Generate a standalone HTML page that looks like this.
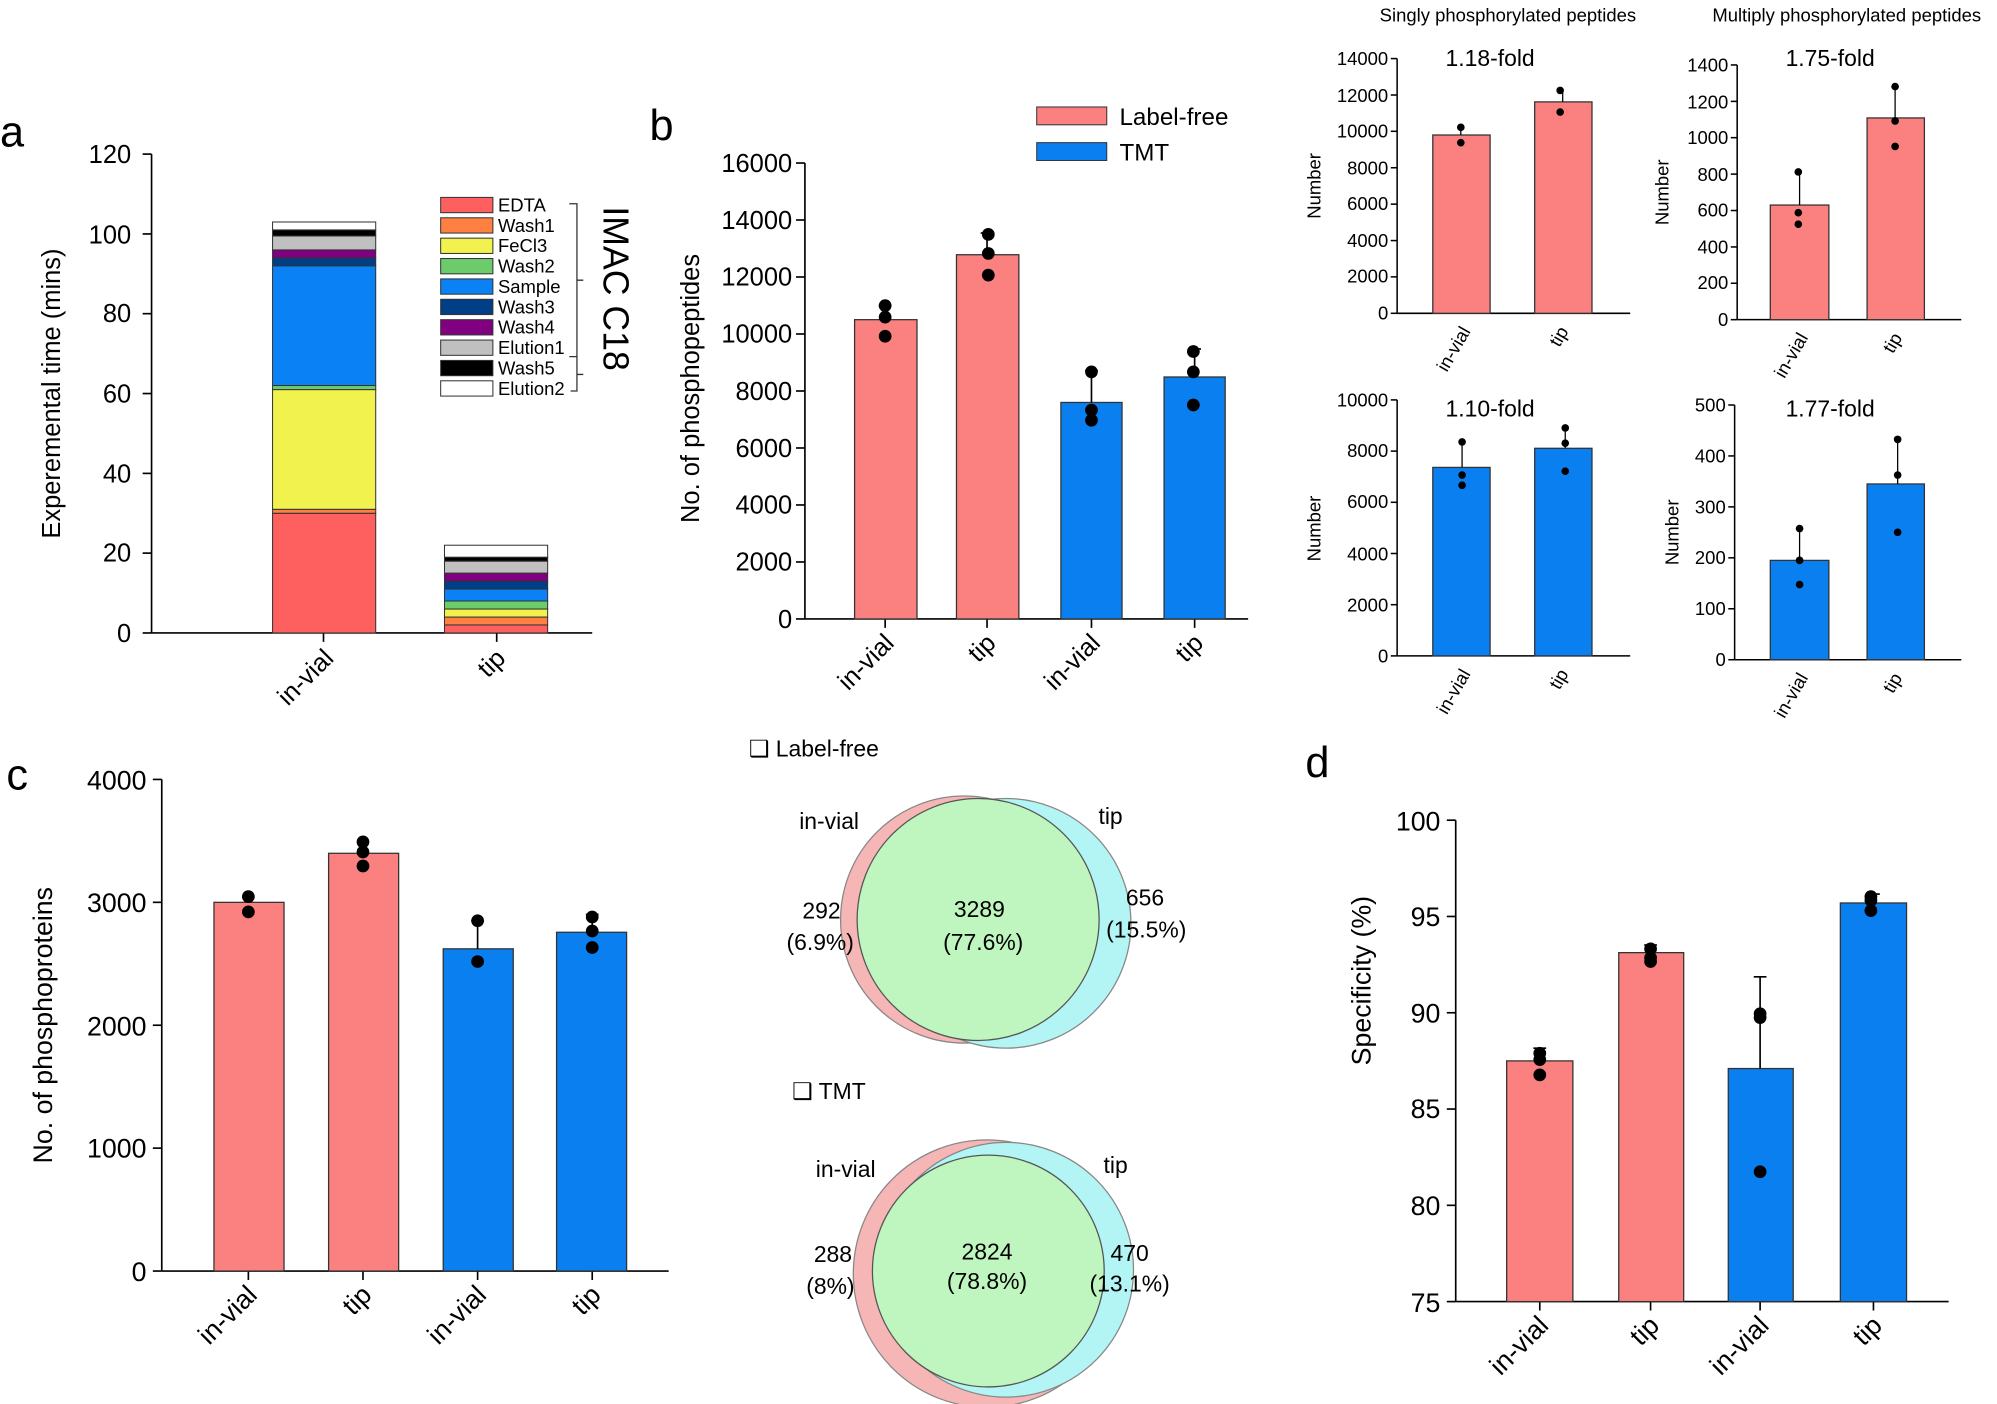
<!DOCTYPE html>
<html><head><meta charset="utf-8"><style>
html,body{margin:0;padding:0;background:#fff}
svg{display:block}
text{font-family:"Liberation Sans",Arial,sans-serif;fill:#000}
</style></head><body>
<svg width="1997" height="1404" viewBox="0 0 1568 1102.4" xmlns="http://www.w3.org/2000/svg">
<rect width="1568" height="1102.4" fill="#fff"/>
<!-- Panel a -->
<text x="0" y="115" font-size="34">a</text>
<g stroke="#000" stroke-width="1.3" fill="none">
<line x1="119" y1="121" x2="119" y2="497"/><line x1="119" y1="497" x2="465" y2="497"/>
<line x1="112" y1="121" x2="119" y2="121"/><line x1="112" y1="183.7" x2="119" y2="183.7"/><line x1="112" y1="246.3" x2="119" y2="246.3"/><line x1="112" y1="309" x2="119" y2="309"/><line x1="112" y1="371.7" x2="119" y2="371.7"/><line x1="112" y1="434.3" x2="119" y2="434.3"/><line x1="112" y1="497" x2="119" y2="497"/>
<line x1="254" y1="497" x2="254" y2="504"/><line x1="390" y1="497" x2="390" y2="504"/>
</g>
<g font-size="20" text-anchor="end">
<text x="103" y="128">120</text><text x="103" y="191">100</text><text x="103" y="253">80</text><text x="103" y="316">60</text><text x="103" y="379">40</text><text x="103" y="441">20</text><text x="103" y="504">0</text>
<text transform="translate(263,518) rotate(-45)">in-vial</text>
<text transform="translate(398,518) rotate(-45)">tip</text>
</g>
<text transform="translate(47,309) rotate(-90)" font-size="20" text-anchor="middle">Experemental time (mins)</text>
<g stroke="#333" stroke-width="0.8">
<rect x="214" y="403" width="81" height="94" fill="#fe6060"/>
<rect x="214" y="399.9" width="81" height="3.1" fill="#ff8040"/>
<rect x="214" y="305.9" width="81" height="94" fill="#f2f24e"/>
<rect x="214" y="302.7" width="81" height="3.2" fill="#6ccc6c"/>
<rect x="214" y="208.7" width="81" height="94" fill="#0a82f5"/>
<rect x="214" y="202.5" width="81" height="6.2" fill="#003f86"/>
<rect x="214" y="196.2" width="81" height="6.3" fill="#800080"/>
<rect x="214" y="185.3" width="81" height="10.9" fill="#c0c0c0"/>
<rect x="214" y="180.5" width="81" height="4.8" fill="#000"/>
<rect x="214" y="174.3" width="81" height="6.2" fill="#fff"/>
<rect x="349" y="490.7" width="81" height="6.3" fill="#fe6060"/>
<rect x="349" y="484.5" width="81" height="6.2" fill="#ff8040"/>
<rect x="349" y="478.2" width="81" height="6.3" fill="#f2f24e"/>
<rect x="349" y="471.9" width="81" height="6.3" fill="#6ccc6c"/>
<rect x="349" y="462.5" width="81" height="9.4" fill="#0a82f5"/>
<rect x="349" y="456.3" width="81" height="6.2" fill="#003f86"/>
<rect x="349" y="450" width="81" height="6.3" fill="#800080"/>
<rect x="349" y="440.6" width="81" height="9.4" fill="#c0c0c0"/>
<rect x="349" y="437.5" width="81" height="3.1" fill="#000"/>
<rect x="349" y="428.1" width="81" height="9.4" fill="#fff"/>
</g>
<g stroke="#333" stroke-width="0.8">
<rect x="346" y="155" width="41" height="12" fill="#fe6060"/>
<rect x="346" y="171" width="41" height="12" fill="#ff8040"/>
<rect x="346" y="187" width="41" height="12" fill="#f2f24e"/>
<rect x="346" y="203" width="41" height="12" fill="#6ccc6c"/>
<rect x="346" y="219" width="41" height="12" fill="#0a82f5"/>
<rect x="346" y="235" width="41" height="12" fill="#003f86"/>
<rect x="346" y="251" width="41" height="12" fill="#800080"/>
<rect x="346" y="267" width="41" height="12" fill="#c0c0c0"/>
<rect x="346" y="283" width="41" height="12" fill="#000"/>
<rect x="346" y="299" width="41" height="12" fill="#fff"/>
</g>
<g font-size="14.5">
<text x="391" y="166">EDTA</text><text x="391" y="182">Wash1</text><text x="391" y="198">FeCl3</text><text x="391" y="214">Wash2</text><text x="391" y="230">Sample</text><text x="391" y="246">Wash3</text><text x="391" y="262">Wash4</text><text x="391" y="278">Elution1</text><text x="391" y="294">Wash5</text><text x="391" y="310">Elution2</text>
</g>
<path d="M447,160 H453 V280 H448 M453,280 V280 M453,279 V280 M453,280 H447 M453,280 V307 H448 M453,280 V280" stroke="#333" fill="none" stroke-width="1"/>
<path d="M453,220 H458 M453,294 H458" stroke="#333" stroke-width="1"/>
<text transform="translate(474,162) rotate(90)" font-size="28">IMAC  C18</text>
<!-- Panel b -->
<text x="510" y="110" font-size="34">b</text>
<g stroke="#000" stroke-width="1.3" fill="none">
<line x1="632" y1="128" x2="632" y2="486"/><line x1="632" y1="486" x2="980" y2="486"/>
<line x1="625" y1="128" x2="632" y2="128"/><line x1="625" y1="172.75" x2="632" y2="172.75"/><line x1="625" y1="217.5" x2="632" y2="217.5"/><line x1="625" y1="262.25" x2="632" y2="262.25"/><line x1="625" y1="307" x2="632" y2="307"/><line x1="625" y1="351.75" x2="632" y2="351.75"/><line x1="625" y1="396.5" x2="632" y2="396.5"/><line x1="625" y1="441.25" x2="632" y2="441.25"/><line x1="625" y1="486" x2="632" y2="486"/>
<line x1="695" y1="486" x2="695" y2="493"/><line x1="775" y1="486" x2="775" y2="493"/><line x1="857" y1="486" x2="857" y2="493"/><line x1="938" y1="486" x2="938" y2="493"/>
</g>
<g font-size="20" text-anchor="end">
<text x="622" y="135">16000</text><text x="622" y="180">14000</text><text x="622" y="224">12000</text><text x="622" y="269">10000</text><text x="622" y="314">8000</text><text x="622" y="359">6000</text><text x="622" y="403">4000</text><text x="622" y="448">2000</text><text x="622" y="493">0</text>
<text transform="translate(703,506) rotate(-45)">in-vial</text><text transform="translate(783,506) rotate(-45)">tip</text><text transform="translate(865,506) rotate(-45)">in-vial</text><text transform="translate(946,506) rotate(-45)">tip</text>
</g>
<text transform="translate(549,305) rotate(-90)" font-size="20" text-anchor="middle">No. of phosphopeptides</text>
<g stroke="#333" stroke-width="1">
<rect x="671" y="251" width="49" height="235" fill="#fb8080"/>
<rect x="751" y="200" width="49" height="286" fill="#fb8080"/>
<rect x="833" y="316" width="48" height="170" fill="#0a7ff0"/>
<rect x="914" y="296" width="48" height="190" fill="#0a7ff0"/>
</g>
<g stroke="#000" stroke-width="1.3">
<line x1="695" y1="251" x2="695" y2="240"/><line x1="690" y1="240" x2="700" y2="240"/>
<line x1="775" y1="200" x2="775" y2="183"/><line x1="770" y1="183" x2="780" y2="183"/>
<line x1="857" y1="316" x2="857" y2="291"/><line x1="852" y1="291" x2="862" y2="291"/>
<line x1="938" y1="296" x2="938" y2="274"/><line x1="933" y1="274" x2="943" y2="274"/>
</g>
<g fill="#000">
<circle cx="695" cy="240" r="5"/><circle cx="695" cy="249" r="5"/><circle cx="695" cy="264" r="5"/>
<circle cx="776" cy="184" r="5"/><circle cx="776" cy="199" r="5"/><circle cx="776" cy="216" r="5"/>
<circle cx="857" cy="292" r="5"/><circle cx="857" cy="322" r="5"/><circle cx="857" cy="330" r="5"/>
<circle cx="937" cy="276" r="5"/><circle cx="937" cy="292" r="5"/><circle cx="937" cy="318" r="5"/>
</g>
<rect x="814" y="84" width="55" height="14" fill="#fb8080" stroke="#333" stroke-width="0.8"/>
<rect x="814" y="112" width="55" height="14" fill="#0a7ff0" stroke="#333" stroke-width="0.8"/>
<text x="879" y="98" font-size="19">Label-free</text><text x="879" y="126" font-size="19">TMT</text>
<!-- small panels -->
<text x="1184" y="17" font-size="14.5" text-anchor="middle">Singly phosphorylated peptides</text>
<text x="1450" y="17" font-size="14.5" text-anchor="middle">Multiply phosphorylated peptides</text>
<!-- TL -->
<g stroke="#000" stroke-width="1.2" fill="none">
<line x1="1097" y1="46" x2="1097" y2="246"/><line x1="1097" y1="246" x2="1280" y2="246"/>
<line x1="1092" y1="46" x2="1097" y2="46"/><line x1="1092" y1="74.6" x2="1097" y2="74.6"/><line x1="1092" y1="103.1" x2="1097" y2="103.1"/><line x1="1092" y1="131.7" x2="1097" y2="131.7"/><line x1="1092" y1="160.3" x2="1097" y2="160.3"/><line x1="1092" y1="188.9" x2="1097" y2="188.9"/><line x1="1092" y1="217.4" x2="1097" y2="217.4"/><line x1="1092" y1="246" x2="1097" y2="246"/>
</g>
<g font-size="14.5" text-anchor="end">
<text x="1090" y="51">14000</text><text x="1090" y="80">12000</text><text x="1090" y="108">10000</text><text x="1090" y="137">8000</text><text x="1090" y="165">6000</text><text x="1090" y="194">4000</text><text x="1090" y="222">2000</text><text x="1090" y="251">0</text>
<text transform="translate(1155,260) rotate(-60)">in-vial</text><text transform="translate(1232,260) rotate(-60)">tip</text>
</g>
<text transform="translate(1037,146) rotate(-90)" font-size="14.5" text-anchor="middle">Number</text>
<text x="1170" y="52" font-size="18" text-anchor="middle">1.18-fold</text>
<rect x="1125" y="106" width="45" height="140" fill="#fb8080" stroke="#333"/><rect x="1205" y="80" width="45" height="166" fill="#fb8080" stroke="#333"/>
<g stroke="#000"><line x1="1147" y1="106" x2="1147" y2="100"/><line x1="1227" y1="80" x2="1227" y2="70"/></g>
<g fill="#000"><circle cx="1147" cy="100" r="3"/><circle cx="1147" cy="112" r="3"/><circle cx="1225" cy="71" r="3"/><circle cx="1225" cy="88" r="3"/></g>
<!-- TR -->
<g stroke="#000" stroke-width="1.2" fill="none">
<line x1="1364" y1="51" x2="1364" y2="251"/><line x1="1364" y1="251" x2="1540" y2="251"/>
<line x1="1359" y1="51" x2="1364" y2="51"/><line x1="1359" y1="79.6" x2="1364" y2="79.6"/><line x1="1359" y1="108.1" x2="1364" y2="108.1"/><line x1="1359" y1="136.7" x2="1364" y2="136.7"/><line x1="1359" y1="165.3" x2="1364" y2="165.3"/><line x1="1359" y1="193.9" x2="1364" y2="193.9"/><line x1="1359" y1="222.4" x2="1364" y2="222.4"/><line x1="1359" y1="251" x2="1364" y2="251"/>
</g>
<g font-size="14.5" text-anchor="end">
<text x="1357" y="56">1400</text><text x="1357" y="85">1200</text><text x="1357" y="113">1000</text><text x="1357" y="142">800</text><text x="1357" y="170">600</text><text x="1357" y="199">400</text><text x="1357" y="227">200</text><text x="1357" y="256">0</text>
<text transform="translate(1420,265) rotate(-60)">in-vial</text><text transform="translate(1494,265) rotate(-60)">tip</text>
</g>
<text transform="translate(1310,151) rotate(-90)" font-size="14.5" text-anchor="middle">Number</text>
<text x="1437" y="52" font-size="18" text-anchor="middle">1.75-fold</text>
<rect x="1390" y="161" width="46" height="90" fill="#fb8080" stroke="#333"/><rect x="1466" y="92.6" width="45" height="158.4" fill="#fb8080" stroke="#333"/>
<g stroke="#000"><line x1="1413" y1="161" x2="1413" y2="135"/><line x1="1488" y1="92.6" x2="1488" y2="68"/></g>
<g fill="#000"><circle cx="1412" cy="135" r="3"/><circle cx="1412" cy="167" r="3"/><circle cx="1412" cy="176" r="3"/><circle cx="1488" cy="68" r="3"/><circle cx="1488" cy="95" r="3"/><circle cx="1488" cy="115" r="3"/></g>
<!-- BL -->
<g stroke="#000" stroke-width="1.2" fill="none">
<line x1="1097" y1="314" x2="1097" y2="515"/><line x1="1097" y1="515" x2="1280" y2="515"/>
<line x1="1092" y1="314" x2="1097" y2="314"/><line x1="1092" y1="354.2" x2="1097" y2="354.2"/><line x1="1092" y1="394.4" x2="1097" y2="394.4"/><line x1="1092" y1="434.6" x2="1097" y2="434.6"/><line x1="1092" y1="474.8" x2="1097" y2="474.8"/><line x1="1092" y1="515" x2="1097" y2="515"/>
</g>
<g font-size="14.5" text-anchor="end">
<text x="1090" y="319">10000</text><text x="1090" y="359">8000</text><text x="1090" y="399">6000</text><text x="1090" y="440">4000</text><text x="1090" y="480">2000</text><text x="1090" y="520">0</text>
<text transform="translate(1155,529) rotate(-60)">in-vial</text><text transform="translate(1232,529) rotate(-60)">tip</text>
</g>
<text transform="translate(1037,415) rotate(-90)" font-size="14.5" text-anchor="middle">Number</text>
<text x="1170" y="327" font-size="18" text-anchor="middle">1.10-fold</text>
<rect x="1125" y="367" width="45" height="148" fill="#0a7ff0" stroke="#333"/><rect x="1205" y="352" width="45" height="163" fill="#0a7ff0" stroke="#333"/>
<g stroke="#000"><line x1="1148" y1="367" x2="1148" y2="347"/><line x1="1229" y1="352" x2="1229" y2="336"/></g>
<g fill="#000"><circle cx="1148" cy="347" r="3"/><circle cx="1148" cy="373" r="3"/><circle cx="1148" cy="381" r="3"/><circle cx="1229" cy="336" r="3"/><circle cx="1229" cy="348" r="3"/><circle cx="1229" cy="370" r="3"/></g>
<!-- BR -->
<g stroke="#000" stroke-width="1.2" fill="none">
<line x1="1362" y1="318" x2="1362" y2="518"/><line x1="1362" y1="518" x2="1540" y2="518"/>
<line x1="1357" y1="318" x2="1362" y2="318"/><line x1="1357" y1="358" x2="1362" y2="358"/><line x1="1357" y1="398" x2="1362" y2="398"/><line x1="1357" y1="438" x2="1362" y2="438"/><line x1="1357" y1="478" x2="1362" y2="478"/><line x1="1357" y1="518" x2="1362" y2="518"/>
</g>
<g font-size="14.5" text-anchor="end">
<text x="1355" y="323">500</text><text x="1355" y="363">400</text><text x="1355" y="403">300</text><text x="1355" y="443">200</text><text x="1355" y="483">100</text><text x="1355" y="523">0</text>
<text transform="translate(1420,532) rotate(-60)">in-vial</text><text transform="translate(1494,532) rotate(-60)">tip</text>
</g>
<text transform="translate(1318,418) rotate(-90)" font-size="14.5" text-anchor="middle">Number</text>
<text x="1437" y="327" font-size="18" text-anchor="middle">1.77-fold</text>
<rect x="1390" y="440" width="46" height="78" fill="#0a7ff0" stroke="#333"/><rect x="1466" y="380" width="45" height="138" fill="#0a7ff0" stroke="#333"/>
<g stroke="#000"><line x1="1413" y1="440" x2="1413" y2="415"/><line x1="1490" y1="380" x2="1490" y2="343"/></g>
<g fill="#000"><circle cx="1413" cy="415" r="3"/><circle cx="1413" cy="440" r="3"/><circle cx="1413" cy="459" r="3"/><circle cx="1490" cy="345" r="3"/><circle cx="1490" cy="373" r="3"/><circle cx="1490" cy="418" r="3"/></g>
<!-- Panel c -->
<text x="5" y="620" font-size="34">c</text>
<g stroke="#000" stroke-width="1.3" fill="none">
<line x1="127" y1="612" x2="127" y2="998"/><line x1="127" y1="998" x2="525" y2="998"/>
<line x1="120" y1="612" x2="127" y2="612"/><line x1="120" y1="708.5" x2="127" y2="708.5"/><line x1="120" y1="805" x2="127" y2="805"/><line x1="120" y1="901.5" x2="127" y2="901.5"/><line x1="120" y1="998" x2="127" y2="998"/>
<line x1="195" y1="998" x2="195" y2="1005"/><line x1="285" y1="998" x2="285" y2="1005"/><line x1="375" y1="998" x2="375" y2="1005"/><line x1="465" y1="998" x2="465" y2="1005"/>
</g>
<g font-size="21" text-anchor="end">
<text x="115" y="620">4000</text><text x="115" y="716">3000</text><text x="115" y="813">2000</text><text x="115" y="909">1000</text><text x="115" y="1006">0</text>
<text transform="translate(203,1018) rotate(-45)">in-vial</text><text transform="translate(293,1018) rotate(-45)">tip</text><text transform="translate(383,1018) rotate(-45)">in-vial</text><text transform="translate(473,1018) rotate(-45)">tip</text>
</g>
<text transform="translate(41,805) rotate(-90)" font-size="21" text-anchor="middle">No. of phosphoproteins</text>
<g stroke="#333" stroke-width="1">
<rect x="168" y="708.5" width="55" height="289.5" fill="#fb8080"/>
<rect x="258" y="670" width="55" height="328" fill="#fb8080"/>
<rect x="348" y="745" width="55" height="253" fill="#0a7ff0"/>
<rect x="437" y="732" width="55" height="266" fill="#0a7ff0"/>
</g>
<g stroke="#000" stroke-width="1.3">
<line x1="195" y1="708" x2="195" y2="702"/><line x1="285" y1="670" x2="285" y2="658"/><line x1="285" y1="658" x2="285" y2="658"/><line x1="375" y1="745" x2="375" y2="723"/><line x1="370" y1="723" x2="380" y2="723"/><line x1="465" y1="732" x2="465" y2="718"/><line x1="460" y1="718" x2="470" y2="718"/>
</g>
<g fill="#000">
<circle cx="195" cy="704" r="5"/><circle cx="195" cy="716" r="5"/>
<circle cx="285" cy="661" r="5"/><circle cx="285" cy="669" r="5"/><circle cx="285" cy="680" r="5"/>
<circle cx="375" cy="723" r="5"/><circle cx="375" cy="755" r="5"/>
<circle cx="465" cy="720" r="5"/><circle cx="465" cy="731" r="5"/><circle cx="465" cy="744" r="5"/>
</g>
<!-- Venn -->
<text x="588" y="594" font-size="18">❑ Label-free</text>
<circle cx="757" cy="722" r="97" fill="#f7b6b6" stroke="#888" stroke-width="1"/>
<circle cx="790" cy="725" r="98" fill="#b3f4f4" stroke="#888" stroke-width="1"/>
<circle cx="768" cy="722" r="95" fill="#bff5bf" stroke="#555" stroke-width="1"/>
<g font-size="18" text-anchor="middle">
<text x="651" y="651">in-vial</text><text x="872" y="647">tip</text>
<text x="645" y="721">292</text><text x="644" y="746">(6.9%)</text>
<text x="769" y="720">3289</text><text x="772" y="746">(77.6%)</text>
<text x="899" y="711">656</text><text x="900" y="736">(15.5%)</text>
</g>
<text x="622" y="863" font-size="18">❑ TMT</text>
<circle cx="775" cy="1000" r="105" fill="#f7b6b6" stroke="#888" stroke-width="1"/>
<circle cx="790" cy="997" r="100" fill="#b3f4f4" stroke="#888" stroke-width="1"/>
<circle cx="776" cy="998" r="91" fill="#bff5bf" stroke="#555" stroke-width="1"/>
<g font-size="18" text-anchor="middle">
<text x="664" y="924">in-vial</text><text x="876" y="921">tip</text>
<text x="654" y="991">288</text><text x="652" y="1016">(8%)</text>
<text x="775" y="989">2824</text><text x="775" y="1012">(78.8%)</text>
<text x="887" y="990">470</text><text x="887" y="1014">(13.1%)</text>
</g>
<!-- Panel d -->
<text x="1025" y="610" font-size="34">d</text>
<g stroke="#000" stroke-width="1.3" fill="none">
<line x1="1143" y1="644" x2="1143" y2="1022"/><line x1="1143" y1="1022" x2="1530" y2="1022"/>
<line x1="1136" y1="644" x2="1143" y2="644"/><line x1="1136" y1="719.6" x2="1143" y2="719.6"/><line x1="1136" y1="795.2" x2="1143" y2="795.2"/><line x1="1136" y1="870.8" x2="1143" y2="870.8"/><line x1="1136" y1="946.4" x2="1143" y2="946.4"/><line x1="1136" y1="1022" x2="1143" y2="1022"/>
<line x1="1209" y1="1022" x2="1209" y2="1029"/><line x1="1296" y1="1022" x2="1296" y2="1029"/><line x1="1382" y1="1022" x2="1382" y2="1029"/><line x1="1471" y1="1022" x2="1471" y2="1029"/>
</g>
<g font-size="21" text-anchor="end">
<text x="1131" y="652">100</text><text x="1131" y="727">95</text><text x="1131" y="803">90</text><text x="1131" y="878">85</text><text x="1131" y="954">80</text><text x="1131" y="1030">75</text>
<text transform="translate(1217,1042) rotate(-45)">in-vial</text><text transform="translate(1304,1042) rotate(-45)">tip</text><text transform="translate(1390,1042) rotate(-45)">in-vial</text><text transform="translate(1479,1042) rotate(-45)">tip</text>
</g>
<text transform="translate(1076,770) rotate(-90)" font-size="21" text-anchor="middle">Specificity (%)</text>
<g stroke="#333" stroke-width="1">
<rect x="1183" y="833" width="52" height="189" fill="#fb8080"/>
<rect x="1271" y="748" width="51" height="274" fill="#fb8080"/>
<rect x="1357" y="839" width="51" height="183" fill="#0a7ff0"/>
<rect x="1445" y="709" width="52" height="313" fill="#0a7ff0"/>
</g>
<g stroke="#000" stroke-width="1.3">
<line x1="1209" y1="833" x2="1209" y2="823"/><line x1="1204" y1="823" x2="1214" y2="823"/>
<line x1="1296" y1="748" x2="1296" y2="742"/><line x1="1291" y1="742" x2="1301" y2="742"/>
<line x1="1382" y1="839" x2="1382" y2="767"/><line x1="1377" y1="767" x2="1387" y2="767"/>
<line x1="1471" y1="709" x2="1471" y2="702"/><line x1="1466" y1="702" x2="1476" y2="702"/>
</g>
<g fill="#000">
<circle cx="1209" cy="827" r="5"/><circle cx="1209" cy="832" r="5"/><circle cx="1209" cy="844" r="5"/>
<circle cx="1296" cy="745" r="5"/><circle cx="1296" cy="752" r="5"/><circle cx="1296" cy="755" r="5"/>
<circle cx="1382" cy="796" r="5"/><circle cx="1382" cy="799" r="5"/><circle cx="1382" cy="920" r="5"/>
<circle cx="1469" cy="704" r="5"/><circle cx="1469" cy="707" r="5"/><circle cx="1469" cy="715" r="5"/>
</g>
</svg>
</body></html>
